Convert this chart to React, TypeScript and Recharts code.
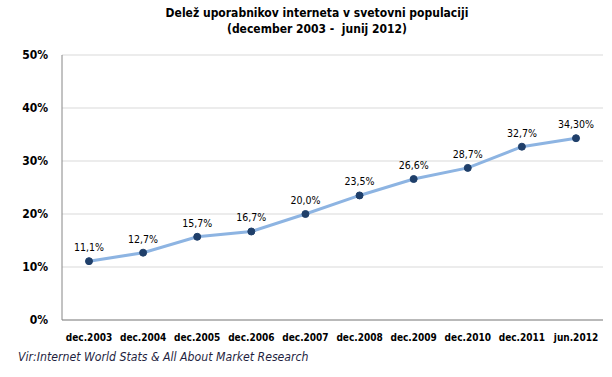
// Delež uporabnikov interneta – črtni graf (Recharts)
import { LineChart, Line, XAxis, YAxis, CartesianGrid, LabelList } from "recharts";

const periods = ["dec.2003", "dec.2004", "dec.2005", "dec.2006", "dec.2007", "dec.2008", "dec.2009", "dec.2010", "dec.2011", "jun.2012"];
const shares = [11.1, 12.7, 15.7, 16.7, 20.0, 23.5, 26.6, 28.7, 32.7, 34.3];
const shareLabels = ["11,1%", "12,7%", "15,7%", "16,7%", "20,0%", "23,5%", "26,6%", "28,7%", "32,7%", "34,30%"];
const yTicks = [0, 10, 20, 30, 40, 50];

const FONT = "'DejaVu Sans Condensed', 'DejaVu Sans', sans-serif";

export default function App() {
  const data = periods.map((p, i) => ({ period: p, value: shares[i], label: shareLabels[i] }));

  return (
    <div style={{ position: "absolute", left: 0, top: 0, width: 612, height: 377, background: "#fff", fontFamily: FONT }}>
      {/* naslov */}
      <div
        style={{
          position: "absolute",
          left: 0,
          top: 5,
          width: 634,
          textAlign: "center",
          fontSize: 12,
          fontWeight: "bold",
          lineHeight: "16px",
          color: "#000",
        }}
      >
        Delež uporabnikov interneta v svetovni populaciji
        <br />
        (december 2003 -&nbsp; junij 2012)
      </div>

      <LineChart width={612} height={377} data={data} margin={{ top: 55, right: 9, bottom: 27, left: 0 }}>
        <CartesianGrid vertical={false} stroke="#d9d9d9" />
        <XAxis
          dataKey="period"
          height={30}
          interval={0}
          padding={{ left: 27, right: 27 }}
          tickLine={false}
          tickSize={0}
          tickMargin={14}
          axisLine={{ stroke: "#868686" }}
          tick={{ fill: "#000", fontSize: 10, fontWeight: "bold", fontFamily: FONT }}
        />
        <YAxis
          width={62}
          domain={[0, 50]}
          ticks={yTicks}
          tickFormatter={(v) => `${v}%`}
          tickLine={false}
          tickSize={0}
          tickMargin={14}
          axisLine={{ stroke: "#868686" }}
          tick={{ fill: "#000", fontSize: 12, fontWeight: "bold", fontFamily: FONT }}
        />
        <Line
          type="linear"
          dataKey="value"
          stroke="#8db4e2"
          strokeWidth={3}
          dot={{ r: 3.5, fill: "#1f3f6a", stroke: "#1f3f6a", strokeWidth: 1 }}
          isAnimationActive={false}
        >
          <LabelList dataKey="label" position="top" offset={10} style={{ fill: "#000", fontSize: 10.5, fontFamily: FONT }} />
        </Line>
      </LineChart>

      {/* vir */}
      <div
        style={{
          position: "absolute",
          left: 18,
          top: 350,
          fontSize: 12.2,
          fontStyle: "italic",
          color: "#1f1f3f",
        }}
      >
        Vir:Internet World Stats &amp; All About Market Research
      </div>
    </div>
  );
}
